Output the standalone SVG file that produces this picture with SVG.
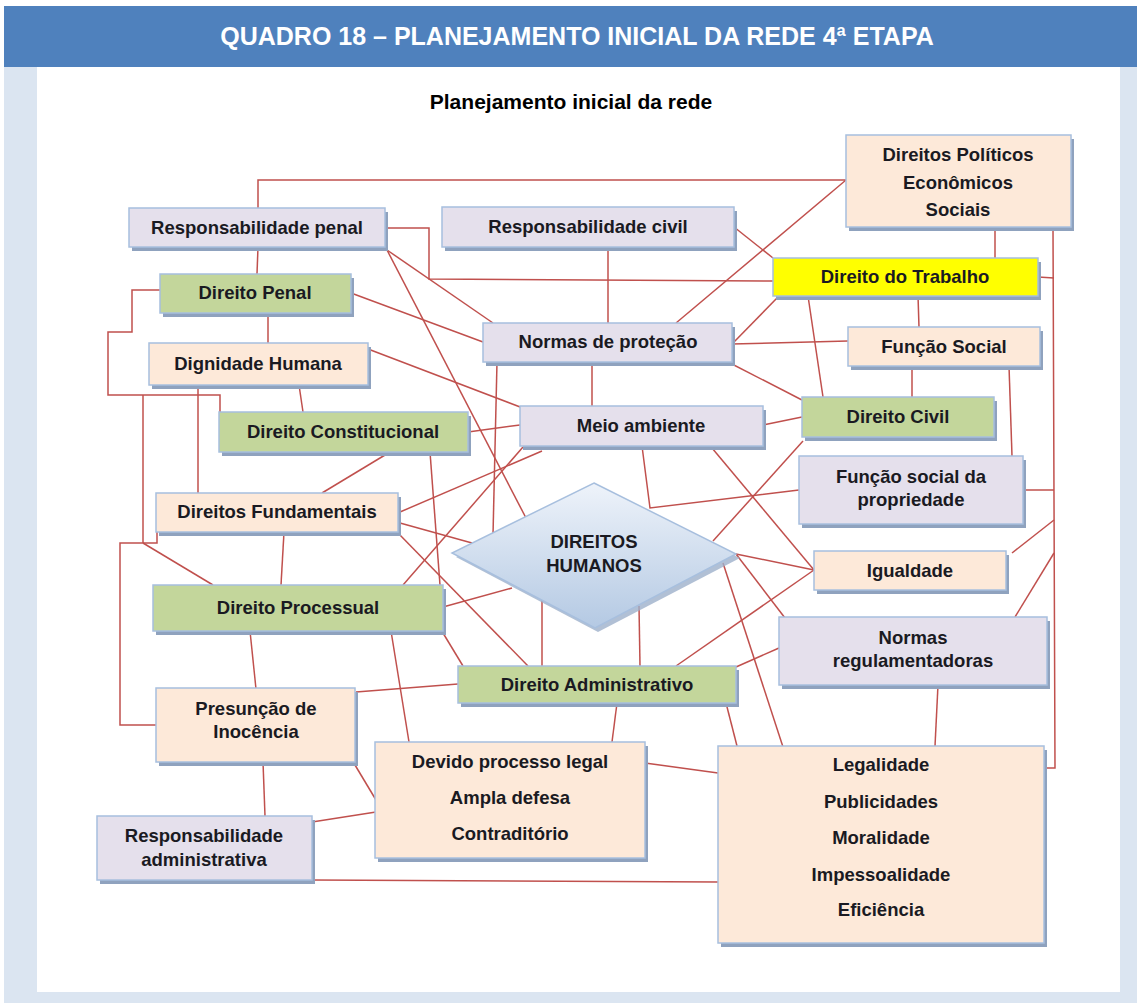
<svg xmlns="http://www.w3.org/2000/svg" width="1137" height="1003" viewBox="0 0 1137 1003">
<style>
.hdr{font-family:"Liberation Sans",Arial,sans-serif;font-weight:bold;font-size:25px;fill:#fff}
.ttl{font-family:"Liberation Sans",Arial,sans-serif;font-weight:bold;font-size:21px;fill:#000}
.t{font-family:"Liberation Sans",Arial,sans-serif;font-weight:bold;font-size:18.5px;fill:#1a1a22;text-anchor:middle}
.sh{fill:#8FA2BE}
.lav{fill:#E5E0EC;stroke:#A7BFDE;stroke-width:1.5}
.pch{fill:#FDE9D9;stroke:#A7BFDE;stroke-width:1.5}
.grn{fill:#C3D69B;stroke:#A7BFDE;stroke-width:1.5}
.yel{fill:#FFFF00;stroke:#A7BFDE;stroke-width:1.5}
#connectors line,#connectors polyline{stroke:#C0504D;stroke-width:1.5;fill:none}
</style>
<defs>
<linearGradient id="dg" x1="0" y1="0" x2="0" y2="1">
<stop offset="0" stop-color="#EEF3FA"/>
<stop offset="1" stop-color="#B4C9E3"/>
</linearGradient>
</defs>
<rect x="0" y="0" width="1137" height="1003" fill="#fff"/>
<rect x="4" y="67" width="1133" height="936" fill="#DBE5F1"/>
<rect x="37" y="67" width="1083" height="925" fill="#fff"/>
<rect x="4" y="6" width="1133" height="61" fill="#4F81BD"/>
<text class="hdr" x="577" y="45" text-anchor="middle">QUADRO 18 – PLANEJAMENTO INICIAL DA REDE 4ª ETAPA</text>
<text class="ttl" x="571" y="109" text-anchor="middle">Planejamento inicial da rede</text>

<g id="connectors">
<polyline points="258,208 258,180 846,180"/>
<line x1="846" y1="180" x2="676" y2="323"/>
<polyline points="385,228 429,228 429,279 773,281"/>
<line x1="734" y1="227" x2="773" y2="258"/>
<line x1="608" y1="247" x2="608" y2="323"/>
<line x1="995" y1="227" x2="995" y2="258"/>
<polyline points="1053,227 1055,768 1044,768"/>
<line x1="1038" y1="277" x2="1054" y2="278"/>
<line x1="1023" y1="490" x2="1054" y2="490"/>
<line x1="1054" y1="520" x2="1012" y2="553"/>
<line x1="1054" y1="553" x2="1015" y2="617"/>
<line x1="918" y1="296" x2="919" y2="327"/>
<line x1="808" y1="296" x2="823" y2="397"/>
<line x1="777" y1="298" x2="734" y2="342"/>
<line x1="732" y1="344" x2="848" y2="341"/>
<line x1="728" y1="362" x2="802" y2="400"/>
<line x1="912" y1="366" x2="912" y2="397"/>
<line x1="1009" y1="366" x2="1012" y2="456"/>
<line x1="763" y1="425" x2="802" y2="417"/>
<polyline points="642,446 650,508 799,490"/>
<line x1="803" y1="441" x2="713" y2="541"/>
<line x1="712" y1="448" x2="814" y2="570"/>
<line x1="736" y1="554" x2="814" y2="570"/>
<line x1="736" y1="554" x2="785" y2="618"/>
<line x1="676" y1="666" x2="814" y2="570"/>
<line x1="736" y1="667" x2="779" y2="648"/>
<line x1="723" y1="563" x2="783" y2="747"/>
<line x1="938" y1="685" x2="935" y2="746"/>
<line x1="726" y1="703" x2="737" y2="746"/>
<line x1="617" y1="703" x2="612" y2="742"/>
<line x1="645" y1="763" x2="718" y2="773"/>
<line x1="312" y1="880" x2="718" y2="882"/>
<line x1="312" y1="822" x2="376" y2="812"/>
<line x1="355" y1="765" x2="376" y2="800"/>
<line x1="263" y1="762" x2="265" y2="816"/>
<line x1="356" y1="692" x2="458" y2="684"/>
<line x1="250" y1="631" x2="256" y2="689"/>
<line x1="391" y1="631" x2="409" y2="742"/>
<line x1="443" y1="633" x2="463" y2="666"/>
<line x1="443" y1="607" x2="512" y2="588"/>
<line x1="403" y1="585" x2="523" y2="447"/>
<line x1="284" y1="532" x2="281" y2="585"/>
<line x1="398" y1="533" x2="528" y2="666"/>
<line x1="400" y1="523" x2="472" y2="543"/>
<line x1="400" y1="512" x2="542" y2="451"/>
<line x1="430" y1="452" x2="440" y2="585"/>
<line x1="385" y1="455" x2="322" y2="493"/>
<line x1="468" y1="432" x2="520" y2="425"/>
<line x1="368" y1="349" x2="528" y2="410"/>
<line x1="299" y1="385" x2="303" y2="412"/>
<line x1="198" y1="385" x2="198" y2="493"/>
<line x1="268" y1="313" x2="268" y2="343"/>
<line x1="258" y1="247" x2="257" y2="274"/>
<line x1="351" y1="293" x2="483" y2="342"/>
<line x1="387" y1="250" x2="526" y2="518"/>
<line x1="387" y1="250" x2="493" y2="323"/>
<line x1="497" y1="362" x2="493" y2="535"/>
<line x1="592" y1="362" x2="592" y2="406"/>
<polyline points="160,290 132,290 132,332 108,332 108,395 220,395 220,412"/>
<line x1="143" y1="395" x2="143" y2="543"/>
<polyline points="157,532 157,543 120,543 120,725 157,725"/>
<line x1="143" y1="543" x2="213" y2="585"/>
<line x1="542" y1="666" x2="542" y2="600"/>
<line x1="640" y1="666" x2="639" y2="606"/>
</g>

<g id="resp-penal"><rect class="sh" x="132" y="212" width="256" height="39"/><rect class="lav" x="129" y="208" width="256" height="39"/><text class="t" x="257" y="234">Responsabilidade penal</text></g>
<g id="resp-civil"><rect class="sh" x="445" y="211" width="292" height="40"/><rect class="lav" x="442" y="207" width="292" height="40"/><text class="t" x="588" y="233">Responsabilidade civil</text></g>
<g id="dir-politicos"><rect class="sh" x="849" y="139" width="225" height="92"/><rect class="pch" x="846" y="135" width="225" height="92"/><text class="t" x="958" y="161">Direitos Políticos</text><text class="t" x="958" y="189">Econômicos</text><text class="t" x="958" y="216">Sociais</text></g>
<g id="dir-trabalho"><rect class="sh" x="776" y="262" width="265" height="38"/><rect class="yel" x="773" y="258" width="265" height="38"/><text class="t" x="905" y="283">Direito do Trabalho</text></g>
<g id="dir-penal"><rect class="sh" x="163" y="278" width="191" height="39"/><rect class="grn" x="160" y="274" width="191" height="39"/><text class="t" x="255" y="299">Direito Penal</text></g>
<g id="normas-protecao"><rect class="sh" x="486" y="327" width="249" height="39"/><rect class="lav" x="483" y="323" width="249" height="39"/><text class="t" x="608" y="348">Normas de proteção</text></g>
<g id="funcao-social"><rect class="sh" x="851" y="331" width="192" height="39"/><rect class="pch" x="848" y="327" width="192" height="39"/><text class="t" x="944" y="353">Função Social</text></g>
<g id="dignidade"><rect class="sh" x="152" y="347" width="219" height="42"/><rect class="pch" x="149" y="343" width="219" height="42"/><text class="t" x="258" y="370">Dignidade Humana</text></g>
<g id="dir-constitucional"><rect class="sh" x="222" y="416" width="249" height="40"/><rect class="grn" x="219" y="412" width="249" height="40"/><text class="t" x="343" y="438">Direito Constitucional</text></g>
<g id="meio-ambiente"><rect class="sh" x="523" y="410" width="243" height="40"/><rect class="lav" x="520" y="406" width="243" height="40"/><text class="t" x="641" y="432">Meio ambiente</text></g>
<g id="dir-civil"><rect class="sh" x="805" y="401" width="192" height="40"/><rect class="grn" x="802" y="397" width="192" height="40"/><text class="t" x="898" y="423">Direito Civil</text></g>
<g id="funcao-social-propriedade"><rect class="sh" x="802" y="460" width="224" height="68"/><rect class="lav" x="799" y="456" width="224" height="68"/><text class="t" x="911" y="483">Função social da</text><text class="t" x="911" y="506">propriedade</text></g>
<g id="dir-fundamentais"><rect class="sh" x="159" y="497" width="242" height="39"/><rect class="pch" x="156" y="493" width="242" height="39"/><text class="t" x="277" y="518">Direitos Fundamentais</text></g>
<g id="direitos-humanos"><polygon points="597,487 740,558 598,632 456,557" fill="#9DB0CB" opacity="0.8"/><polygon points="594,483 736,554 595,628 452,553" fill="url(#dg)" stroke="#A7BFDE" stroke-width="1.5"/><text class="t" x="594" y="548">DIREITOS</text><text class="t" x="594" y="572">HUMANOS</text></g>
<g id="igualdade"><rect class="sh" x="817" y="555" width="192" height="39"/><rect class="pch" x="814" y="551" width="192" height="39"/><text class="t" x="910" y="577">Igualdade</text></g>
<g id="dir-processual"><rect class="sh" x="156" y="589" width="290" height="46"/><rect class="grn" x="153" y="585" width="290" height="46"/><text class="t" x="298" y="614">Direito Processual</text></g>
<g id="normas-regulamentadoras"><rect class="sh" x="782" y="621" width="268" height="68"/><rect class="lav" x="779" y="617" width="268" height="68"/><text class="t" x="913" y="644">Normas</text><text class="t" x="913" y="667">regulamentadoras</text></g>
<g id="dir-administrativo"><rect class="sh" x="461" y="670" width="278" height="37"/><rect class="grn" x="458" y="666" width="278" height="37"/><text class="t" x="597" y="691">Direito Administrativo</text></g>
<g id="presuncao"><rect class="sh" x="159" y="692" width="199" height="74"/><rect class="pch" x="156" y="688" width="199" height="74"/><text class="t" x="256" y="715">Presunção de</text><text class="t" x="256" y="738">Inocência</text></g>
<g id="devido-processo"><rect class="sh" x="378" y="746" width="270" height="116"/><rect class="pch" x="375" y="742" width="270" height="116"/><text class="t" x="510" y="768">Devido processo legal</text><text class="t" x="510" y="804">Ampla defesa</text><text class="t" x="510" y="840">Contraditório</text></g>
<g id="resp-administrativa"><rect class="sh" x="100" y="820" width="215" height="64"/><rect class="lav" x="97" y="816" width="215" height="64"/><text class="t" x="204" y="842">Responsabilidade</text><text class="t" x="204" y="866">administrativa</text></g>
<g id="principios"><rect class="sh" x="721" y="750" width="326" height="197"/><rect class="pch" x="718" y="746" width="326" height="197"/><text class="t" x="881" y="771">Legalidade</text><text class="t" x="881" y="808">Publicidades</text><text class="t" x="881" y="844">Moralidade</text><text class="t" x="881" y="881">Impessoalidade</text><text class="t" x="881" y="916">Eficiência</text></g>
</svg>
